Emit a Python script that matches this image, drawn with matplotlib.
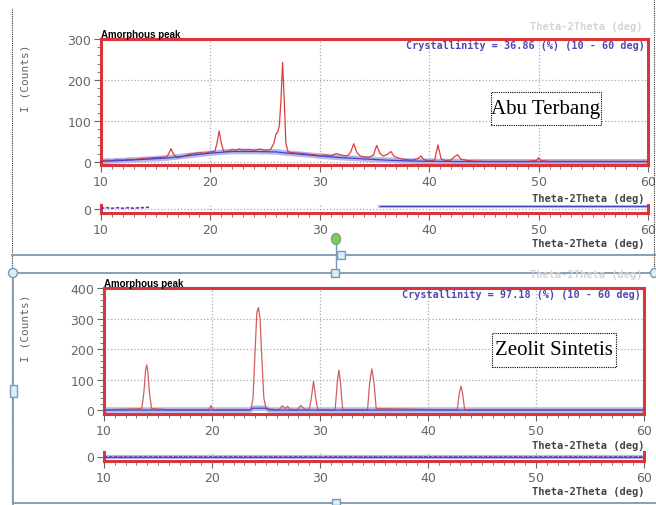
import numpy as np
import matplotlib.pyplot as plt
from matplotlib.patches import Rectangle, Ellipse
from matplotlib.lines import Line2D
from matplotlib.ticker import MultipleLocator

W, H = 656, 506

# --- Abu Terbang (fly ash) pattern ---
abu_2theta = [10.0, 10.5, 11.0, 11.5, 12.0, 12.5, 13.0, 13.5, 14.0, 14.5, 15.0, 15.5,
              16.0, 16.2, 16.4, 16.6, 16.9, 17.2, 17.5, 18.0, 18.5, 19.0, 19.5, 20.0,
              20.4, 20.6, 20.8, 21.0, 21.2, 21.5, 22.0, 22.3, 22.6, 23.0, 23.5, 24.0,
              24.5, 25.0, 25.5, 25.8, 26.0, 26.15, 26.3, 26.45, 26.6, 26.75, 26.9, 27.1,
              27.5, 28.0, 28.5, 29.0, 29.5, 30.0, 30.5, 31.0, 31.5, 32.0, 32.5, 32.8,
              33.1, 33.4, 33.7, 34.0, 34.5, 34.9, 35.2, 35.5, 35.8, 36.2, 36.5, 36.8,
              37.2, 37.6, 38.0, 38.5, 39.0, 39.25, 39.5, 40.0, 40.5, 40.8, 41.1, 41.5,
              42.0, 42.3, 42.6, 42.9, 43.5, 44.0, 45.0, 46.0, 47.0, 48.0, 49.0, 49.8,
              50.0, 50.2, 51.0, 53.0, 55.0, 57.0, 60.0]
abu_counts = [2, 4, 3, 5, 4, 6, 5, 7, 8, 9, 10, 11,
              12, 20, 32, 20, 10, 11, 13, 18, 20, 22, 21, 24,
              25, 45, 75, 45, 26, 25, 30, 28, 31, 29, 30, 28,
              31, 28, 30, 45, 68, 72, 88, 150, 243, 150, 45, 24,
              22, 21, 20, 18, 17, 15, 17, 14, 20, 16, 14, 22,
              44, 22, 14, 12, 11, 16, 40, 20, 14, 18, 25, 13,
              9, 6, 5, 4, 8, 14, 5, 3, 4, 41, 6, 3,
              4, 12, 17, 6, 3, 2, 1, 1, 1, 1, 1, 3,
              10, 3, 1, 1, 1, 1, 1]
abu_bg_2theta = [10, 12, 14, 16, 18, 20, 22, 24, 26, 27, 28, 30, 32, 34, 36, 38, 40, 45, 50, 55, 60]
abu_bg_counts = [1, 3, 6, 9, 15, 21, 25, 25, 24, 21, 19, 14, 10, 7, 4, 2, 1, 0, 0, 0, 0]
abu_res_2theta = [10.0, 10.5, 11.0, 11.5, 12.0, 12.5, 13.0, 13.5, 14.0, 14.5]
abu_res_counts = [1, 2, 1, 2, 1, 2, 1, 2, 2, 3]
abu_res_bg_2theta = [35.5, 60.0]
abu_res_bg_counts = [4, 4]
abu_cryst = 36.86

# --- Zeolit Sintetis (synthetic zeolite) pattern ---
zeo_2theta = [10.0, 13.5, 13.7, 13.85, 13.95, 14.05, 14.2, 14.4, 16.4, 16.5, 16.6,
              19.7, 19.9, 20.1, 23.6, 23.8, 24.0, 24.15, 24.3, 24.45, 24.6, 24.8, 25.0,
              26.2, 26.5, 26.8, 27.0, 27.3, 27.9, 28.2, 28.6, 29.0, 29.2, 29.4, 29.6,
              29.8, 31.4, 31.6, 31.75, 31.9, 32.1, 34.4, 34.6, 34.8, 35.0, 35.2,
              42.7, 42.9, 43.05, 43.2, 43.4, 60.0]
zeo_counts = [0, 5, 60, 130, 148, 130, 60, 5, 0, 3, 0,
              0, 15, 0, 0, 40, 200, 320, 336, 300, 180, 40, 5,
              0, 14, 5, 12, 0, 0, 15, 3, 0, 40, 94, 40,
              0, 0, 90, 131, 90, 0, 0, 90, 135, 90, 5,
              0, 55, 78, 55, 0, 0]
zeo_bg_2theta = [10, 23.5, 23.8, 25.0, 25.3, 60]
zeo_bg_counts = [0, 0, 6, 6, 0, 0]
zeo_res_2theta = [10, 60]
zeo_res_counts = [0, 0]
zeo_cryst = 97.18

RED = '#d8363c'
BLUE = '#4646c4'
BAND = '#b4b8ea'
GRAY = '#666666'


def box(left, top, right, bottom):
    return [left / W, 1 - bottom / H, (right - left) / W, (bottom - top) / H]


def style_axes(ax):
    for sp in ax.spines.values():
        sp.set_color(RED)
        sp.set_linewidth(2.2)
    ax.set_xlim(10, 60)
    ax.xaxis.set_major_locator(MultipleLocator(10))
    ax.xaxis.set_minor_locator(MultipleLocator(1))
    ax.tick_params(axis='both', which='major', length=5, color=GRAY, labelcolor=GRAY,
                   labelsize=9, pad=2)
    ax.tick_params(axis='both', which='minor', length=3, color=GRAY)
    ax.grid(True, which='major', color='#aaaaaa', linestyle=':', linewidth=0.9)
    ax.set_axisbelow(True)


def panel(tth, cnt, bg_x, bg_y, rx, ry, rbx, rby, cryst, name, curve_color,
          main_box, res_box, ymin, ymax, ystep, xlab_y, res_xlab_y, ylab_y, name_box, ghost_y):
    ax = fig.add_axes(box(*main_box))
    style_axes(ax)
    ax.set_ylim(ymin, ymax)
    ax.yaxis.set_major_locator(MultipleLocator(ystep))
    ax.yaxis.set_minor_locator(MultipleLocator(ystep / 5))
    ax.plot(bg_x, bg_y, color=BAND, lw=4, solid_capstyle='butt', zorder=2)
    ax.plot(tth, cnt, color=curve_color, lw=0.9, zorder=3)
    ax.plot(bg_x, bg_y, color=BLUE, lw=0.9, zorder=4)
    ax.text(0.995, 0.955, f'Crystallinity = {cryst:.2f} (%) (10 - 60 deg)',
            transform=ax.transAxes, ha='right', va='center', color='#4b4bb2',
            family='DejaVu Sans Mono', fontsize=7.3, fontweight='bold')
    ax.text(0.0, 1.0, 'Amorphous peak', transform=ax.transAxes, ha='left', va='bottom',
            family='Liberation Sans', fontweight='bold', fontsize=7)

    # sample name box
    l, t, r, b = name_box
    fig.patches.append(Rectangle((l / W, 1 - b / H), (r - l) / W, (b - t) / H,
                                 transform=fig.transFigure, fill=True, facecolor='white',
                                 edgecolor='black', linestyle=(0, (1, 1)), lw=0.8, zorder=5))
    fig.text((l + r) / 2 / W, 1 - (t + b) / 2 / H, name, ha='center', va='center',
             family='Liberation Serif', fontsize=15, zorder=6)

    fig.text(644 / W, 1 - xlab_y / H, 'Theta-2Theta (deg)', ha='right', va='center',
             family='DejaVu Sans Mono', fontsize=7.5, color='#444444', fontweight='bold')
    fig.text(642 / W, 1 - ghost_y / H, 'Theta-2Theta (deg)', ha='right', va='center',
             family='DejaVu Sans Mono', fontsize=7.5, color='#d4d4d4', fontweight='bold')
    fig.text(25 / W, 1 - ylab_y / H, 'I (Counts)', ha='center', va='center', rotation=90,
             family='DejaVu Sans Mono', fontsize=8, color=GRAY)

    rax = fig.add_axes(box(*res_box))
    style_axes(rax)
    rax.spines['top'].set_visible(False)
    rax.set_ylim(-6, 6)
    rax.set_yticks([0])
    rax.plot(rbx, rby, color=BAND, lw=3, zorder=2)
    rax.plot(rbx, rby, color=BLUE, lw=0.8, zorder=3)
    rax.plot(rx, ry, color='#6a3fae', lw=1.2, linestyle=(0, (2, 1)), zorder=4)
    fig.text(644 / W, 1 - res_xlab_y / H, 'Theta-2Theta (deg)', ha='right', va='center',
             family='DejaVu Sans Mono', fontsize=7.5, color='#444444', fontweight='bold')
    return ax


fig = plt.figure(figsize=(W / 100, H / 100), dpi=100)

panel(abu_2theta, abu_counts, abu_bg_2theta, abu_bg_counts,
      abu_res_2theta, abu_res_counts, abu_res_bg_2theta, abu_res_bg_counts,
      abu_cryst, 'Abu Terbang', '#e03c3c',
      (101, 40, 648, 166), (101, 206, 648, 214), -8, 300, 100, 199, 244, 78,
      (491, 93, 601, 126), 27)
panel(zeo_2theta, zeo_counts, zeo_bg_2theta, zeo_bg_counts,
      zeo_res_2theta, zeo_res_counts, zeo_res_2theta, zeo_res_counts,
      zeo_cryst, 'Zeolit Sintetis', '#d45e5e',
      (104, 289, 644, 415), (104, 453, 644, 462), -13, 400, 100, 446, 492, 328,
      (492, 334, 616, 368), 275)

# document frame decorations (text boxes of the original page)
def fline(xs, ys, **kw):
    fig.add_artist(Line2D([x / W for x in xs], [1 - y / H for y in ys],
                          transform=fig.transFigure, **kw))

frame = '#7d98b3'
fline([12, 12], [10, 506], color='#333333', lw=0.8, linestyle=(0, (1, 1)))
fline([654, 654], [0, 270], color='#333333', lw=0.8, linestyle=(0, (1, 1)))
fline([12, 656], [256, 256], color=frame, lw=1.3)
fline([13, 656], [274, 274], color=frame, lw=1.3)
fline([13, 13], [274, 506], color=frame, lw=1.3)
fline([13, 656], [504, 504], color=frame, lw=1.3)
fline([336, 336], [244, 274], color=frame, lw=1.0)
for cx, cy, w, h in [(341, 256, 8, 8), (335, 274, 8, 8), (13, 392, 7, 12), (336, 503, 8, 6)]:
    fig.patches.append(Rectangle(((cx - w / 2) / W, 1 - (cy + h / 2) / H), w / W, h / H,
                                 transform=fig.transFigure, facecolor='#d6eef8',
                                 edgecolor=frame, lw=1, zorder=8))
for cx, cy, w, h, fc in [(336, 240, 9, 11, '#7ed23a'), (13, 274, 9, 9, '#d6eef8'),
                         (654, 274, 7, 9, '#d6eef8')]:
    fig.patches.append(Ellipse((cx / W, 1 - cy / H), w / W, h / H, transform=fig.transFigure,
                               facecolor=fc, edgecolor=frame, lw=1, zorder=8))

fig.savefig('out.png', dpi=100)
